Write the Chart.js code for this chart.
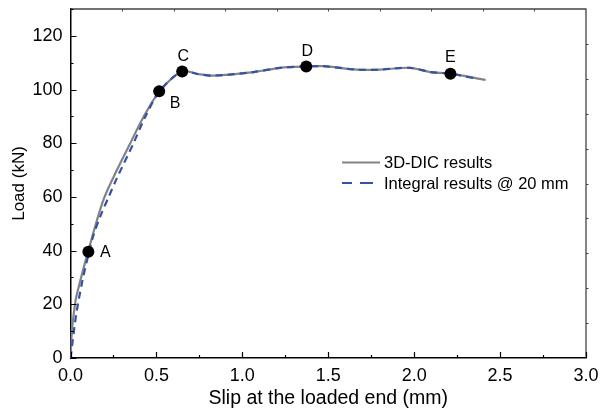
<!DOCTYPE html>
<html>
<head>
<meta charset="utf-8">
<script src="https://cdn.jsdelivr.net/npm/chart.js@4/dist/chart.umd.min.js"></script>
<style>
  html, body { margin: 0; padding: 0; background: #fff; }
  #wrap { width: 600px; height: 413px; }
</style>
</head>
<body>
<div id="wrap"><canvas id="chart"></canvas></div>
<script>
// slip at loaded end (mm) vs load (kN)
const dicSlip = [0, 0.008, 0.026, 0.036, 0.104, 0.191, 0.27, 0.347, 0.424, 0.52, 0.65, 0.74, 0.832, 1.065, 1.22, 1.37, 1.47, 1.668, 1.80, 1.978, 2.095, 2.21, 2.416];
const dicLoad = [0, 10, 20, 23.5, 40, 58.8, 70, 79.9, 89.7, 99.5, 106.8, 105.8, 105.2, 106.5, 108.1, 108.6, 108.7, 107.4, 107.4, 108.1, 106.5, 105.9, 103.6];

const intSlip = [0, 0.01, 0.035, 0.07, 0.095, 0.13, 0.175, 0.222, 0.27, 0.366, 0.434, 0.52, 0.65, 0.74, 0.832, 1.065, 1.22, 1.37, 1.47, 1.668, 1.80, 1.978, 2.095, 2.21, 2.367];
const intLoad = [0, 5, 17, 29, 36, 45, 53, 60, 67, 79.9, 89.7, 99.5, 106.8, 105.8, 105.2, 106.5, 108.1, 108.6, 108.7, 107.4, 107.4, 108.1, 106.5, 105.9, 104.0];

const keyNames = ["A", "B", "C", "D", "E"];
const keySlip = [0.104, 0.516, 0.65, 1.372, 2.211];
const keyLoad = [39.6, 99.4, 106.7, 108.6, 105.9];

const xTicks = [0, 0.5, 1.0, 1.5, 2.0, 2.5, 3.0];
const yTicks = [0, 20, 40, 60, 80, 100, 120];

const legendLabels = ["3D-DIC results", "Integral results @ 20 mm"];

const FONT = '"Liberation Sans", Arial, Helvetica, sans-serif';
const GRAY = "#838383";
const BLUE = "#3352a8";

function pts(xs, ys){
  return xs.map((x, i) => ({x: x, y: ys[i]}));
}

// frame, inward tick marks, point letters and legend
const decor = {
  id: "decor",
  afterDraw(chart){
    const ctx = chart.ctx;
    const a = chart.chartArea;
    const xs = chart.scales.x, ys = chart.scales.y;
    ctx.save();

    // top and right frame
    ctx.strokeStyle = "#444";
    ctx.lineWidth = 1.3;
    ctx.beginPath();
    ctx.moveTo(a.left, a.top); ctx.lineTo(a.right, a.top); ctx.lineTo(a.right, a.bottom);
    ctx.stroke();

    // major + minor ticks on left and bottom
    ctx.strokeStyle = "#000";
    ctx.lineWidth = 1.2;
    ctx.beginPath();
    for(let v = 0; v <= 3.0001; v += 0.25){
      const px = Math.round(xs.getPixelForValue(v)) + 0.5;
      const len = (Math.abs(v / 0.5 - Math.round(v / 0.5)) < 1e-6) ? 6 : 3;
      ctx.moveTo(px, a.bottom); ctx.lineTo(px, a.bottom - len);
    }
    for(let v = 0; v <= 130.001; v += 10){
      const py = Math.round(ys.getPixelForValue(v)) + 0.5;
      const len = (v % 20 === 0) ? 6 : 3;
      ctx.moveTo(a.left, py); ctx.lineTo(a.left + len, py);
    }
    ctx.stroke();

    // small ticks on the top and right edges
    ctx.strokeStyle = "#444";
    ctx.lineWidth = 1;
    ctx.beginPath();
    for(let i = 1; i < 10; i++){
      const px = Math.round(a.left + (a.right - a.left) * i / 10) + 0.5;
      ctx.moveTo(px, a.top); ctx.lineTo(px, a.top + 2.5);
      const py = Math.round(a.bottom - (a.bottom - a.top) * i / 10) + 0.5;
      ctx.moveTo(a.right, py); ctx.lineTo(a.right + 2.5, py);
    }
    ctx.stroke();

    // letters next to the key points
    const offs = [[17, 1], [16, 12], [1, -15], [1, -15], [0, -16]];
    ctx.fillStyle = "#000";
    ctx.font = "16px " + FONT;
    ctx.textAlign = "center";
    ctx.textBaseline = "middle";
    keyNames.forEach((n, i) => {
      const px = xs.getPixelForValue(keySlip[i]);
      const py = ys.getPixelForValue(keyLoad[i]);
      ctx.fillText(n, px + offs[i][0], py + offs[i][1]);
    });

    // legend
    const lx0 = 342, tx = 384;
    const rows = [162.5, 183];
    ctx.textAlign = "left";
    ctx.font = "16.5px " + FONT;
    ctx.lineWidth = 2.2;
    ctx.strokeStyle = GRAY;
    ctx.setLineDash([]);
    ctx.beginPath(); ctx.moveTo(lx0, rows[0]); ctx.lineTo(380, rows[0]); ctx.stroke();
    ctx.strokeStyle = BLUE;
    ctx.setLineDash([10, 8, 13, 20]);
    ctx.beginPath(); ctx.moveTo(lx0, rows[1]); ctx.lineTo(373, rows[1]); ctx.stroke();
    ctx.setLineDash([]);
    ctx.fillStyle = "#000";
    ctx.fillText(legendLabels[0], tx, rows[0] + 1);
    ctx.fillText(legendLabels[1], tx, rows[1] + 1);

    ctx.restore();
  }
};

new Chart(document.getElementById("chart"), {
  type: "scatter",
  data: {
    datasets: [
      {
        label: "Key points",
        data: pts(keySlip, keyLoad),
        showLine: false,
        pointRadius: 6,
        pointBackgroundColor: "#000",
        pointBorderColor: "#000",
        pointBorderWidth: 0,
        order: 0
      },
      {
        label: legendLabels[1],
        data: pts(intSlip, intLoad),
        showLine: true,
        borderColor: BLUE,
        borderWidth: 2.2,
        borderDash: [7, 5],
        pointRadius: 0,
        tension: 0.3,
        order: 1
      },
      {
        label: legendLabels[0],
        data: pts(dicSlip, dicLoad),
        showLine: true,
        borderColor: GRAY,
        borderWidth: 2.2,
        pointRadius: 0,
        tension: 0.3,
        order: 2
      }
    ]
  },
  options: {
    responsive: true,
    maintainAspectRatio: false,
    animation: false,
    layout: {padding: {left: 0, right: 14, top: 9, bottom: 0}},
    plugins: {
      legend: {display: false},
      tooltip: {enabled: false}
    },
    scales: {
      x: {
        type: "linear",
        min: 0, max: 3,
        afterBuildTicks: (s) => { s.ticks = xTicks.map(v => ({value: v})); },
        afterFit: (s) => { s.height = 55; s.paddingLeft = 0; s.paddingRight = 0; },
        grid: {display: false, drawTicks: false},
        border: {display: true, color: "#000", width: 1.5},
        ticks: {
          color: "#000", padding: 7,
          font: {family: FONT, size: 18},
          callback: (v) => Number(v).toFixed(1)
        },
        title: {
          display: true, text: "Slip at the loaded end (mm)", color: "#000",
          font: {family: FONT, size: 19.5}, padding: {top: 0, bottom: 3}
        }
      },
      y: {
        type: "linear",
        min: 0, max: 130,
        afterBuildTicks: (s) => { s.ticks = yTicks.map(v => ({value: v})); },
        afterFit: (s) => { s.width = 70.5; s.paddingTop = 0; s.paddingBottom = 0; },
        grid: {display: false, drawTicks: false},
        border: {display: true, color: "#000", width: 1.5},
        ticks: {
          color: "#000", padding: 8,
          font: {family: FONT, size: 18}
        },
        title: {
          display: true, text: "Load (kN)", color: "#000",
          font: {family: FONT, size: 17}, padding: {top: 9, bottom: 0}
        }
      }
    }
  },
  plugins: [decor]
});
</script>
</body>
</html>
